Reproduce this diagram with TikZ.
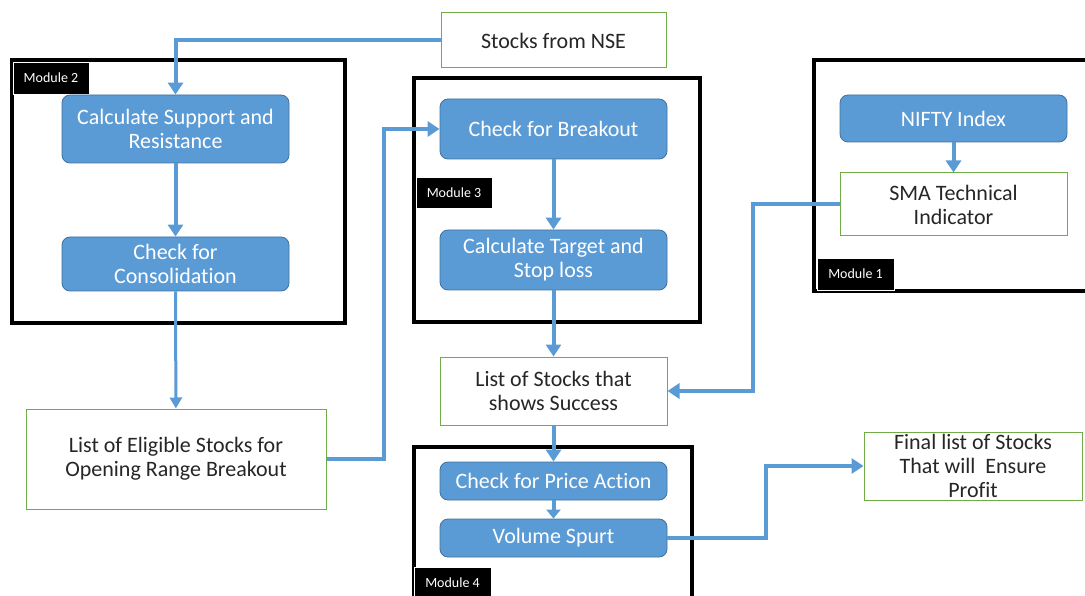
\documentclass[tikz,border=0pt]{standalone}
\usepackage{fontspec}
\setmainfont[Ligatures=NoCommon]{Carlito}
\usetikzlibrary{arrows.meta}
\definecolor{obl}{HTML}{5B9BD5}
\definecolor{obd}{HTML}{41719C}
\definecolor{ogr}{HTML}{70AD47}
\definecolor{txt}{HTML}{262626}
\begin{document}
\begin{tikzpicture}[x=1pt,y=-1pt,
  bluebox/.style={draw=obd, fill=obl, rounded corners=8pt, text=white, align=center, inner sep=0pt, font=\fontsize{22}{24}\selectfont, line width=0.8pt},
  greenbox/.style={draw=ogr, fill=white, align=center, inner sep=0pt, font=\fontsize{22}{24}\selectfont, text=txt, line width=1pt},
  frame/.style={draw=black, line width=4pt},
  modlabel/.style={fill=black, text=white, font=\fontsize{14}{15}\selectfont, inner sep=0pt, draw=white, line width=0.8pt},
  conn/.style={draw=obl, line width=4pt, -{Triangle[length=12pt,width=15pt]}},
  thinconn/.style={draw=obl, line width=3pt, -{Triangle[length=11pt,width=12pt]}},
  shortconn/.style={draw=obl, line width=4pt, -{Triangle[length=9pt,width=14pt]}},
]
\useasboundingbox (0,0) rectangle (1085,596);
% frames
\draw[frame] (11.5,60.5) rectangle (345,323);
\draw[frame] (413.5,78) rectangle (700,322);
\draw[frame] (813.5,60.5) rectangle (1100,291);
\draw[frame] (413.5,446.5) rectangle (692,610);
% module labels
\node[modlabel, minimum width=76pt, minimum height=32pt] (m2) at (51,78) {Module 2};
\node[modlabel, minimum width=76pt, minimum height=31pt] (m3) at (454,192.5) {Module 3};
\node[modlabel, minimum width=77pt, minimum height=32pt] (m1) at (855.5,274) {Module 1};
\node[modlabel, minimum width=77pt, minimum height=32pt] (m4) at (452.5,583) {Module 4};
% boxes
\node[greenbox, minimum width=225pt, minimum height=55pt] (nse) at (553.5,40.5) {Stocks from NSE};
\node[bluebox, minimum width=227pt, minimum height=68pt] (sr) at (175.5,129) {Calculate Support and\\Resistance};
\node[bluebox, minimum width=227pt, minimum height=54pt] (cons) at (175.5,264) {Check for\\Consolidation};
\node[greenbox, minimum width=300pt, minimum height=100pt] (elig) at (176,459) {List of Eligible Stocks for\\Opening Range Breakout};
\node[bluebox, minimum width=227pt, minimum height=60pt] (brk) at (553.5,129) {Check for Breakout};
\node[bluebox, minimum width=227pt, minimum height=60pt] (tgt) at (553.5,260) {Calculate Target and\\Stop loss};
\node[greenbox, minimum width=227pt, minimum height=68pt] (succ) at (553.5,391) {List of Stocks that\\shows Success};
\node[bluebox, minimum width=227pt, minimum height=47pt] (nifty) at (953.5,118.5) {NIFTY Index};
\node[greenbox, minimum width=227pt, minimum height=63pt] (sma) at (953.5,204.5) {SMA Technical\\Indicator};
\node[bluebox, minimum width=227pt, minimum height=38pt] (pa) at (553.5,481) {Check for Price Action};
\node[bluebox, minimum width=227pt, minimum height=38pt] (vs) at (553.5,538) {Volume Spurt};
\node[greenbox, minimum width=218pt, minimum height=68pt] (final) at (973,466) {Final list of Stocks\\That will\ \ Ensure\\Profit};
% connectors
\draw[conn] (nse.west) -| (sr.north);
\draw[conn] (sr) -- (cons);
\draw[thinconn] (cons) -- (elig);
\draw[conn] (elig.east) -- ++(57,0) |- (brk.west);
\draw[conn] (brk) -- (tgt);
\draw[conn] (tgt) -- (succ);
\draw[conn] (nifty) -- (sma);
\draw[conn] (sma.west) -- ++(-87,0) |- (succ.east);
\draw[conn] (succ) -- (pa);
\draw[shortconn] (pa) -- (vs);
\draw[conn] (vs.east) -- ++(99,0) |- (final.west);
\end{tikzpicture}
\end{document}
